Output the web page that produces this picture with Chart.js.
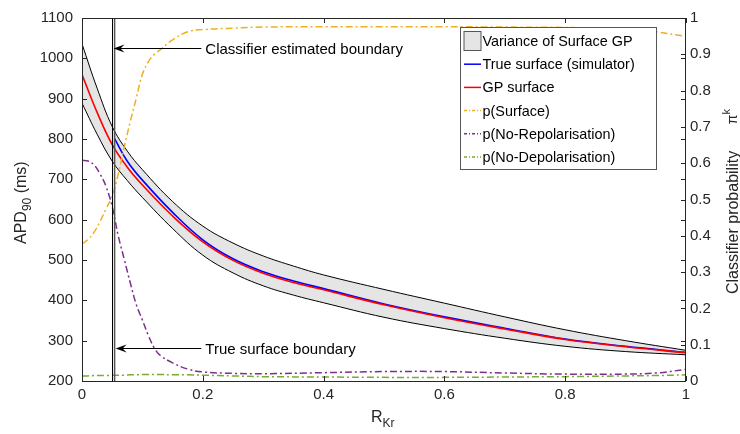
<!DOCTYPE html>
<html>
<head>
<meta charset="utf-8">
<script src="https://cdn.jsdelivr.net/npm/chart.js@4.4.1/dist/chart.umd.min.js"></script>
<style>
  html, body { margin: 0; padding: 0; background: #fff; }
  #wrap { width: 740px; height: 434px; }
</style>
</head>
<body>
<div id="wrap"><canvas id="apdChart" width="740" height="434"></canvas></div>
<script>
// R_Kr samples for the surface curves
const apdX      = [0, 0.025, 0.05, 0.075, 0.1, 0.15, 0.2, 0.25, 0.3, 0.35, 0.4, 0.5, 0.6, 0.7, 0.8, 0.9, 1];
const varUpper  = [1036, 926, 831, 770, 724, 645, 584, 542, 510, 485, 463, 427, 393, 359, 327, 300, 276];
const varLower  = [889, 812, 745, 697, 655, 578, 512, 468, 436, 413, 394, 358, 330, 306, 286, 273, 265];
const gpSurface = [960, 866, 786, 730, 686, 609, 545, 499, 467, 444, 426, 389, 357, 329, 303, 285, 270];

// simulator surface only exists right of the true boundary
const trueX       = [0.054, 0.075, 0.1, 0.15, 0.2, 0.25, 0.3, 0.35, 0.4, 0.5, 0.6, 0.7, 0.8, 0.9, 1];
const trueSurface = [801, 745, 698, 618, 550, 503, 471, 448, 429, 391, 359, 331, 304, 286, 271];

// classifier probabilities (right axis)
const probX     = [0, 0.01, 0.02, 0.03, 0.04, 0.05, 0.06, 0.07, 0.08, 0.09, 0.1, 0.11, 0.12, 0.13, 0.15, 0.175, 0.2, 0.25, 0.3, 0.4, 0.5, 0.6, 0.7, 0.8, 0.9, 0.95, 1];
const pSurface  = [0.378, 0.39, 0.41, 0.44, 0.475, 0.51, 0.57, 0.645, 0.715, 0.78, 0.845, 0.88, 0.9, 0.913, 0.94, 0.962, 0.968, 0.972, 0.975, 0.976, 0.976, 0.976, 0.975, 0.974, 0.969, 0.962, 0.949];
const pNoRepol  = [0.608, 0.606, 0.595, 0.57, 0.535, 0.48, 0.40, 0.335, 0.27, 0.21, 0.168, 0.125, 0.09, 0.07, 0.05, 0.033, 0.025, 0.021, 0.02, 0.023, 0.026, 0.026, 0.022, 0.019, 0.019, 0.022, 0.032];
const pNoDepol  = [0.014, 0.014, 0.015, 0.015, 0.015, 0.016, 0.016, 0.016, 0.017, 0.017, 0.018, 0.018, 0.018, 0.018, 0.017, 0.017, 0.016, 0.014, 0.012, 0.011, 0.010, 0.010, 0.011, 0.012, 0.014, 0.015, 0.017];

const boundaryEstimated = 0.0505;
const boundaryTrue = 0.054;

const xTicks = [0, 0.2, 0.4, 0.6, 0.8, 1];
const apdTicks = [200, 300, 400, 500, 600, 700, 800, 900, 1000, 1100];
const probTicks = [0, 0.1, 0.2, 0.3, 0.4, 0.5, 0.6, 0.7, 0.8, 0.9, 1];

// arrow annotations: [text, y on APD axis, text start on R_Kr axis, boundary]
const notes = [
  ['Classifier estimated boundary', 1026, 0.2025, boundaryEstimated],
  ['True surface boundary', 282, 0.2025, boundaryTrue]
];

const FONT = "'Liberation Sans', Arial, Helvetica, sans-serif";
const INK = '#262626';
const DASHDOT = [7, 3, 2, 3];

const pts = (xs, ys) => xs.map((x, i) => ({ x: x, y: ys[i] }));

const datasets = [
  { label: 'Variance of Surface GP', data: pts(apdX, varUpper), yAxisID: 'y', borderColor: '#000', borderWidth: 1,
    backgroundColor: '#e5e5e5', fill: '+1', order: 10, patch: true },
  { data: pts(apdX, varLower), yAxisID: 'y', borderColor: '#000', borderWidth: 1, fill: false, order: 9 },
  { label: 'True surface (simulator)', data: pts(trueX, trueSurface), yAxisID: 'y', borderColor: '#0000ff', borderWidth: 1.6, order: 8 },
  { label: 'GP surface', data: pts(apdX, gpSurface), yAxisID: 'y', borderColor: '#ff0000', borderWidth: 1.6, order: 7 },
  { label: 'p(Surface)', data: pts(probX, pSurface), yAxisID: 'y1', borderColor: '#EDB120', borderWidth: 1.5, borderDash: DASHDOT, order: 6 },
  { label: 'p(No-Repolarisation)', data: pts(probX, pNoRepol), yAxisID: 'y1', borderColor: '#7E2F8E', borderWidth: 1.5, borderDash: DASHDOT, order: 5 },
  { label: 'p(No-Depolarisation)', data: pts(probX, pNoDepol), yAxisID: 'y1', borderColor: '#77AC30', borderWidth: 1.5, borderDash: DASHDOT, order: 4 },
  { data: [{ x: boundaryEstimated, y: 200 }, { x: boundaryEstimated, y: 1100 }], yAxisID: 'y', borderColor: '#000', borderWidth: 1, tension: 0, order: 2 },
  { data: [{ x: boundaryTrue, y: 200 }, { x: boundaryTrue, y: 1100 }], yAxisID: 'y', borderColor: '#555', borderWidth: 1.5, tension: 0, order: 1 }
];

// draws a run of text pieces (sub/superscripts) along a baseline
function richText(ctx, parts, x, y, rotate) {
  ctx.save();
  ctx.translate(x, y);
  if (rotate) ctx.rotate(-Math.PI / 2);
  ctx.textAlign = 'left';
  ctx.textBaseline = 'alphabetic';
  let cx = 0;
  parts.forEach(p => {
    ctx.font = p[1] + 'px ' + FONT;
    ctx.fillText(p[0], cx, p[2] || 0);
    cx += ctx.measureText(p[0]).width;
  });
  ctx.restore();
}

const matlabFrame = {
  id: 'matlabFrame',
  afterDatasetsDraw(chart) {
    const { ctx, scales: { x, y } } = chart;
    ctx.save();
    ctx.strokeStyle = '#000';
    ctx.fillStyle = '#000';
    ctx.lineWidth = 1;
    ctx.font = '15px ' + FONT;
    ctx.textBaseline = 'middle';
    notes.forEach(n => {
      const py = Math.round(y.getPixelForValue(n[1])) + 0.5;
      const tx = x.getPixelForValue(n[2]);
      const tip = x.getPixelForValue(n[3]) + 1;
      ctx.beginPath();
      ctx.moveTo(tx - 3, py);
      ctx.lineTo(tip + 6, py);
      ctx.stroke();
      ctx.beginPath();
      ctx.moveTo(tip, py);
      ctx.lineTo(tip + 11, py - 4);
      ctx.lineTo(tip + 7, py);
      ctx.lineTo(tip + 11, py + 4);
      ctx.closePath();
      ctx.fill();
      ctx.fillText(n[0], tx + 1, py + 1);
    });
    ctx.restore();
  },
  afterDraw(chart) {
    const { ctx, chartArea: a, scales: { x, y, y1 } } = chart;
    const L = a.left, R = a.right, T = a.top, B = a.bottom;
    ctx.save();
    ctx.strokeStyle = INK;
    ctx.lineWidth = 1;
    ctx.beginPath();
    ctx.rect(L + 0.5, T + 0.5, R - L - 1, B - T);
    // inward ticks
    xTicks.forEach(v => {
      const px = Math.round(x.getPixelForValue(v)) + 0.5;
      ctx.moveTo(px, B); ctx.lineTo(px, B - 5);
      ctx.moveTo(px, T); ctx.lineTo(px, T + 5);
    });
    apdTicks.forEach(v => {
      const py = Math.round(y.getPixelForValue(v)) + 0.5;
      ctx.moveTo(L, py); ctx.lineTo(L + 5, py);
      ctx.moveTo(R, py); ctx.lineTo(R - 5, py);
    });
    probTicks.forEach(v => {
      const py = Math.round(y1.getPixelForValue(v)) + 0.5;
      ctx.moveTo(R, py); ctx.lineTo(R - 5, py);
    });
    ctx.stroke();

    // axis titles
    ctx.fillStyle = INK;
    richText(ctx, [['R', 16], ['Kr', 12, 5]], 371, 422, false);
    richText(ctx, [['APD', 16], ['90', 12, 5], [' (ms)', 16]], 26, 244, true);
    richText(ctx, [['Classifier probability', 16], ['      ', 16], ['\u03C0', 14, -1], ['k', 11, -8]], 738, 294, true);

    // legend box
    const bx = 460.5, by = 27.5, bw = 196, bh = 142, row = 23.2;
    ctx.fillStyle = '#fff';
    ctx.fillRect(bx, by, bw, bh);
    ctx.strokeStyle = '#555';
    ctx.strokeRect(bx, by, bw, bh);
    ctx.font = '14.4px ' + FONT;
    ctx.textBaseline = 'middle';
    let i = 0;
    chart.data.datasets.forEach(ds => {
      if (!ds.label) return;
      const cy = by + 13.5 + i * row;
      if (ds.patch) {
        ctx.fillStyle = ds.backgroundColor;
        ctx.fillRect(bx + 3.5, cy - 9.5, 17, 19);
        ctx.strokeStyle = '#555';
        ctx.strokeRect(bx + 3.5, cy - 9.5, 17, 19);
      } else {
        ctx.strokeStyle = ds.borderColor;
        ctx.lineWidth = 1.5;
        ctx.setLineDash(ds.borderDash ? [3, 2, 1, 2] : []);
        ctx.beginPath();
        ctx.moveTo(bx + 3.5, cy);
        ctx.lineTo(bx + 20.5, cy);
        ctx.stroke();
        ctx.setLineDash([]);
        ctx.lineWidth = 1;
      }
      ctx.fillStyle = '#000';
      ctx.fillText(ds.label, bx + 22, cy + 1);
      i++;
    });
    ctx.restore();
  }
};

const plain = v => String(Math.round(v * 10) / 10);

new Chart(document.getElementById('apdChart'), {
  type: 'line',
  data: { datasets: datasets },
  options: {
    responsive: false,
    animation: false,
    layout: { padding: { top: 13, left: 0, right: 0, bottom: 0 } },
    elements: {
      point: { radius: 0, hoverRadius: 0 },
      line: { tension: 0.4, fill: false }
    },
    plugins: { legend: { display: false }, tooltip: { enabled: false } },
    scales: {
      x: {
        type: 'linear', min: 0, max: 1,
        afterFit: s => { s.height = 53; },
        afterBuildTicks: s => { s.ticks = xTicks.map(v => ({ value: v })); },
        grid: { display: false, drawTicks: false }, border: { display: false },
        ticks: { font: { size: 15, family: FONT }, color: INK, padding: 5, maxRotation: 0, callback: plain }
      },
      y: {
        type: 'linear', position: 'left', min: 200, max: 1100,
        afterFit: s => { s.width = 82; },
        afterBuildTicks: s => { s.ticks = apdTicks.map(v => ({ value: v })); },
        grid: { display: false, drawTicks: false }, border: { display: false },
        ticks: { font: { size: 15, family: FONT }, color: INK, padding: 9, callback: v => String(v) }
      },
      y1: {
        type: 'linear', position: 'right', min: 0, max: 1,
        afterFit: s => { s.width = 54; },
        afterBuildTicks: s => { s.ticks = probTicks.map(v => ({ value: v })); },
        grid: { display: false, drawTicks: false }, border: { display: false },
        ticks: { font: { size: 15, family: FONT }, color: INK, padding: 4, callback: plain }
      }
    }
  },
  plugins: [matlabFrame]
});
</script>
</body>
</html>
